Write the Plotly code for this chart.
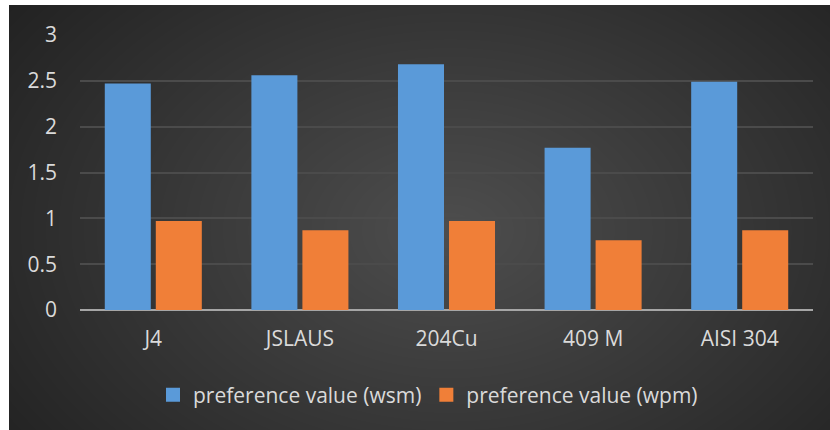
import base64, struct, zlib
import numpy as np
import plotly.graph_objects as go

categories = ["J4", "JSLAUS", "204Cu", "409 M", "AISI 304"]
wsm_values = [2.47, 2.56, 2.68, 1.77, 2.49]
wpm_values = [0.97, 0.87, 0.97, 0.76, 0.87]
series_names = ["preference value (wsm)", "preference value (wpm)"]
series_colors = ["#5a9ad9", "#f07f38"]
y_ticks = [0, 0.5, 1, 1.5, 2, 2.5, 3]
y_tick_text = ["0", "0.5", "1", "1.5", "2", "2.5", "3"]

W, H = 830, 430
ML, MR, MT, MB = 80, 17, 35, 120
PW, PH = W - ML - MR, H - MT - MB

# background gradient (dark gray, lighter in the middle)
BX0, BX1, BY0, BY1 = 9, 830, 5, 430
bw, bh = BX1 - BX0, BY1 - BY0
xs = np.arange(bw) + BX0
ys = np.arange(bh) + BY0
X, Y = np.meshgrid(xs, ys)
d = np.sqrt(((X - 450) / 480.0) ** 2 + ((Y - 230) / 330.0) ** 2)
d = np.clip(d, 0, 1.15)
g = (78 - 38 * d).clip(0, 255).astype(np.uint8)


def png_uri(arr):
    h, w = arr.shape
    raw = b"".join(b"\x00" + arr[i].tobytes() for i in range(h))
    def chunk(t, data):
        c = struct.pack(">I", len(data)) + t + data
        return c + struct.pack(">I", zlib.crc32(t + data) & 0xFFFFFFFF)
    png = b"\x89PNG\r\n\x1a\n"
    png += chunk(b"IHDR", struct.pack(">IIBBBBB", w, h, 8, 0, 0, 0, 0))
    png += chunk(b"IDAT", zlib.compress(raw, 9))
    png += chunk(b"IEND", b"")
    return "data:image/png;base64," + base64.b64encode(png).decode()


bg_src = png_uri(g)

fig = go.Figure()
for name, vals, col in zip(series_names, [wsm_values, wpm_values], series_colors):
    fig.add_trace(go.Bar(x=categories, y=vals, name=name, legendgroup=name,
                         showlegend=False,
                         marker=dict(color=col, line=dict(width=0))))
# legend entries with larger square swatches
for name, col in zip(series_names, series_colors):
    fig.add_trace(go.Scatter(x=[None], y=[None], mode="markers", name=name,
                             legendgroup=name, showlegend=True,
                             marker=dict(symbol="square", size=14, color=col,
                                         line=dict(width=0))))

font_family = "Open Sans"
fig.update_layout(
    width=W, height=H,
    margin=dict(l=ML, r=MR, t=MT, b=MB, pad=0),
    paper_bgcolor="white",
    plot_bgcolor="rgba(0,0,0,0)",
    barmode="group",
    bargap=0.304,
    bargroupgap=0.098,
    font=dict(family=font_family, size=21, color="#dadada"),
    showlegend=True,
    legend=dict(orientation="h", x=(428 - ML) / PW, xanchor="center",
                y=(H - MB - 395) / PH, yanchor="middle",
                font=dict(family=font_family, size=21, color="#dadada"),
                bgcolor="rgba(0,0,0,0)", itemsizing="trace"),
    images=[dict(source=bg_src, xref="paper", yref="paper",
                 x=(BX0 - ML) / PW, y=(H - MB - BY0) / PH,
                 sizex=bw / PW, sizey=bh / PH,
                 xanchor="left", yanchor="top", sizing="stretch",
                 layer="below")],
)
fig.update_xaxes(showgrid=False, showline=False, zeroline=False, ticks="",
                 ticklabelstandoff=14,
                 tickfont=dict(family=font_family, size=21, color="#dadada"))
fig.update_yaxes(range=[0, 3], tickvals=y_ticks, ticktext=y_tick_text,
                 showgrid=True, gridcolor="#4b4b4b", gridwidth=1.5,
                 zeroline=True, zerolinecolor="#a6a6a6", zerolinewidth=2,
                 showline=False, ticks="", ticklabelstandoff=22,
                 tickfont=dict(family=font_family, size=21, color="#dadada"))

fig.write_html("out.html")
